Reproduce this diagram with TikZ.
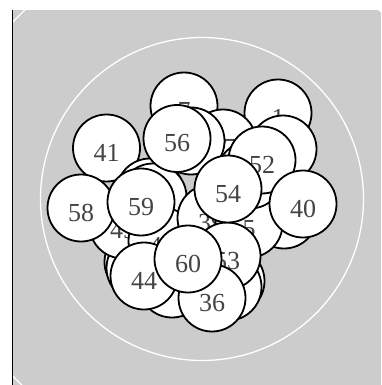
\documentclass[tikz,border=0pt]{standalone}
\usepackage{fontspec}
\setmainfont{Liberation Serif}
\definecolor{bggray}{HTML}{CCCCCC}
\definecolor{lblgray}{HTML}{444444}
\tikzset{
  ball/.style={circle, draw=black, fill=white, line width=1.8pt, minimum size=67pt, inner sep=0pt,
    text=lblgray, font=\fontsize{26}{26}\selectfont, text height=26.6pt, text depth=0pt},
}
\begin{document}
\begin{tikzpicture}[x=1pt,y=-1pt]
\useasboundingbox (0,0) rectangle (381,385);
\fill[white] (0,0) rectangle (381,385);
\begin{scope}
\clip (12,10) rectangle (381,385);
\fill[bggray] (12,10) rectangle (381,385);
\draw[white, line width=1.3pt] (202,199) circle[radius=259];
\end{scope}
\draw[black, line width=0.8pt] (12.4,10) -- (12.4,385);
\draw[white, line width=1.3pt] (202,199) circle[radius=161.5];
% back to front
\node[ball] (n1)  at (278,113) {1};
\node[ball] (n7)  at (184,106) {7};
\node[ball] (nb52) at (283,149) {};
\node[ball] (n27) at (223,143) {27};
\node[ball] (nb56) at (191,141) {};
\node[ball] (n41) at (106.5,148) {41};
\node[ball] (nb59a) at (150,192) {};
\node[ball] (nb59) at (153,197) {};
\node[ball] (nl1) at (138,262) {};
\node[ball] (nl2) at (140,268) {};
\node[ball] (n49) at (123,225) {49};
\node[ball] (n58) at (81,208) {58};
\node[ball] (n46) at (162,241) {46};
\node[ball] (nbm) at (172,284) {};
\node[ball] (nr1) at (231,281) {};
\node[ball] (nr2) at (228,287) {};
\node[ball] (n39) at (211,218) {39};
\node[ball] (nb40) at (284,215) {};
\node[ball] (n5)  at (249,224) {5};
\node[ball] (n53) at (227,256) {53};
\node[ball] (nm) at (250,175) {};
\node[ball] (n52) at (262,160) {52};
\node[ball] (n40) at (303,204) {40};
\node[ball] (n56) at (177,138.5) {56};
\node[ball] (n59) at (141,202) {59};
\node[ball] (n54) at (228,189) {54};
\node[ball] (n44) at (144,276) {44};
\node[ball] (n36) at (212,298) {36};
\node[ball] (n60) at (188,259) {60};
\end{tikzpicture}
\end{document}
